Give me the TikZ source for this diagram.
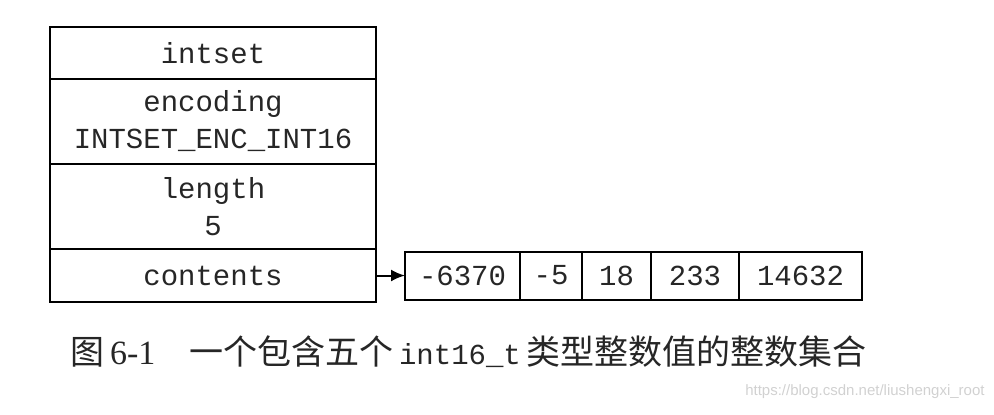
\documentclass[tikz,border=0pt]{standalone}
\usepackage{fontspec}
\setmonofont{Liberation Mono}
\newfontfamily\cjk{Noto Sans CJK SC}
\newfontfamily\capserif{Liberation Serif}
\newfontfamily\marksans{Liberation Sans}
\usetikzlibrary{arrows.meta,positioning}
\tikzset{
    field/.style={draw=black,line width=1pt,minimum width=163pt,inner sep=0pt,outer sep=0pt,
      align=center,text=black!85,font=\ttfamily\fontsize{14.5}{18.5}\selectfont},
    elem/.style={draw=black,line width=1pt,minimum height=24pt,inner sep=0pt,outer sep=0pt,
      text=black!85,font=\ttfamily\fontsize{14.5}{18.5}\selectfont},
    ptr/.style={line width=1pt,-{Latex[length=7pt,width=6pt]}}
}

\begin{document}
\begin{tikzpicture}[x=0.5pt,y=-0.5pt]
  \useasboundingbox (0,0) rectangle (994,414);

  % intset 结构
  \node[field,minimum height=26pt,anchor=north west]
    (intset) at (50,27) {intset};
  \node[field,minimum height=42.5pt,below=0pt of intset]
    (encoding) {encoding\\INTSET\_ENC\_INT16};
  \node[field,minimum height=42.5pt,below=0pt of encoding]
    (length) {length\\5};
  \node[field,minimum height=26.5pt,below=0pt of length]
    (contents) {contents};

  % contents 数组
  \node[elem,minimum width=57.5pt,right=14.5pt of contents] (E1) {-6370};
  \node[elem,minimum width=31pt,right=0pt of E1] (E2) {-5};
  \node[elem,minimum width=34.5pt,right=0pt of E2] (E3) {18};
  \node[elem,minimum width=44pt,right=0pt of E3] (E4) {233};
  \node[elem,minimum width=61.5pt,right=0pt of E4] (E5) {14632};

  \draw[ptr] (contents.east) -- (E1.west);

  % 图题
  \node[anchor=west,inner sep=0pt,text=black!85,font=\fontsize{17}{20}\selectfont]
    (caption) at (70,352)
    {{\cjk 图}\,{\capserif 6-1}\quad{\cjk 一个包含五个}\,{\ttfamily\fontsize{14.5}{18}\selectfont int16\_t}\,{\cjk 类型整数值的整数集合}};

  % 水印
  \node[anchor=east,inner sep=0pt,text=black!18,font=\marksans\fontsize{7.5}{9}\selectfont]
    (mark) at (985,392) {https://blog.csdn.net/liushengxi\_root};
\end{tikzpicture}
\end{document}
